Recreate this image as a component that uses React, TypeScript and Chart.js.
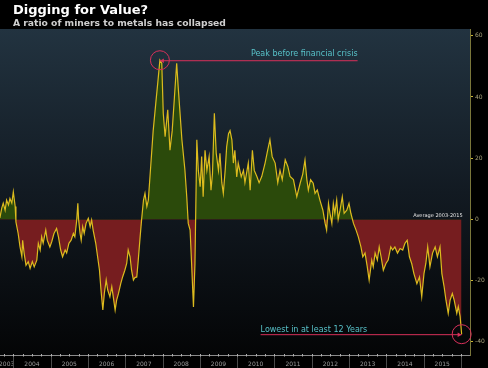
import React, { useEffect, useRef } from 'react';
import { Chart, registerables } from 'chart.js';

Chart.register(...registerables);

// Decimal-year dates of the readings
const dates: number[] = [
  2003.64, 2003.69, 2003.73, 2003.78, 2003.82, 2003.87, 2003.91, 2003.96, 2004.00, 2004.05,
  2004.07, 2004.13, 2004.18, 2004.23, 2004.25, 2004.29, 2004.34, 2004.40, 2004.45, 2004.51,
  2004.56, 2004.63, 2004.67, 2004.72, 2004.76, 2004.80, 2004.87, 2004.91, 2004.98, 2005.03,
  2005.09, 2005.16, 2005.21, 2005.27, 2005.32, 2005.39, 2005.43, 2005.49, 2005.55, 2005.61,
  2005.65, 2005.70, 2005.73, 2005.75, 2005.79, 2005.82, 2005.86, 2005.90, 2005.95, 2006.01,
  2006.06, 2006.10, 2006.14, 2006.21, 2006.26, 2006.31, 2006.35, 2006.40, 2006.44, 2006.49,
  2006.53, 2006.59, 2006.64, 2006.68, 2006.73, 2006.77, 2006.82, 2006.88, 2006.93, 2006.99,
  2007.04, 2007.08, 2007.13, 2007.17, 2007.22, 2007.26, 2007.31, 2007.35, 2007.40, 2007.44,
  2007.49, 2007.53, 2007.58, 2007.62, 2007.67,
  2007.75, 2007.82, 2007.88, 2007.93, 2007.98, 2008.02, 2008.07, 2008.14, 2008.20, 2008.26,
  2008.32, 2008.38, 2008.42, 2008.52, 2008.60, 2008.65, 2008.69, 2008.74, 2008.78, 2008.83,
  2008.87, 2008.92, 2008.96, 2009.01, 2009.05, 2009.09, 2009.14, 2009.19, 2009.25, 2009.30,
  2009.34, 2009.39, 2009.44, 2009.50, 2009.54, 2009.59, 2009.63, 2009.68, 2009.72, 2009.77,
  2009.81, 2009.86, 2009.90, 2009.94, 2009.99, 2010.03, 2010.11, 2010.17, 2010.21, 2010.30,
  2010.35, 2010.41, 2010.46, 2010.53, 2010.59, 2010.66, 2010.75, 2010.82, 2010.88, 2010.94,
  2011.02, 2011.09, 2011.15, 2011.21, 2011.29, 2011.36, 2011.42,
  2011.51, 2011.60, 2011.69, 2011.76, 2011.82, 2011.87, 2011.91, 2011.97, 2012.04, 2012.09,
  2012.15, 2012.22, 2012.30, 2012.36, 2012.40, 2012.45, 2012.49, 2012.54, 2012.58, 2012.62,
  2012.67, 2012.71, 2012.76, 2012.82, 2012.87, 2012.94, 2013.00, 2013.05, 2013.12, 2013.19,
  2013.25, 2013.32, 2013.37, 2013.43, 2013.49, 2013.54, 2013.61, 2013.65, 2013.70, 2013.76,
  2013.81, 2013.86, 2013.92, 2013.99, 2014.05, 2014.12, 2014.17, 2014.23, 2014.30, 2014.37,
  2014.44, 2014.50, 2014.56, 2014.62, 2014.68, 2014.74, 2014.82, 2014.89, 2014.95, 2015.01,
  2015.06, 2015.11, 2015.17, 2015.24, 2015.31, 2015.37, 2015.44, 2015.49, 2015.55, 2015.60,
  2015.66, 2015.71, 2015.77, 2015.82, 2015.89, 2015.93, 2015.98, 2016.02,
];

// Ratio of miners to metals, deviation from 2003-2015 average
const values: number[] = [
  0.5, 3.7, 5.3, 3, 6.3, 4.7, 6.8, 5.3, 9, 4.2,
  -0.8, -4.6, -9, -12.2, -6.8, -11, -15, -13.8, -16, -13.8,
  -15.5, -13.3, -7.8, -10, -5.7, -7.8, -3.5, -6.8, -9, -7.3,
  -4.6, -3, -5.7, -10, -12.2, -10, -11, -7.8, -6.8, -4.6,
  -5.7, -0.2, 5.3, 0, -4.6, -6.8, -2.4, -4.6, -1.3, 0.3,
  -2.4, -0.2, -3.5, -7.8, -12.2, -16.6, -23, -29.6, -24.2, -19.8,
  -23, -25.3, -22, -25.3, -29.6, -26.4, -24.2, -21, -18.8, -16.6,
  -14.4, -10, -12.2, -16.6, -19.8, -19, -18.8, -13.3, -5.7, 0,
  6.3, 8.5, 4.2, 6.3, 15,
  29, 38, 45.5, 52, 51, 34.7, 27, 35.8, 22.6, 29,
  40, 51, 43.3, 26, 16.2, 7.4, -1.3, -3.5, -14.4, -28.6,
  -14.4, 26, 16, 10.7, 20.5, 7.4, 22.6, 16, 20.5, 9.5,
  15, 34.7, 21.6, 16, 21.6, 12, 8.5, 16, 23.7, 28,
  29, 26, 18.4, 22.6, 13.9, 18.4, 13.9, 16, 12, 18.4,
  9.5, 22.6, 16, 14, 12, 14, 18.4, 22.6, 26, 20.5,
  18.4, 12, 16, 13, 19.5, 17.3, 14,
  13, 7.4, 11.8, 14.8, 19.4, 13, 9.6, 13, 11.8, 8.5,
  9.6, 6.3, 3, -1.3, -3.5, 5.2, 2, -1.3, 5.2, 2,
  6.3, 0, 3, 7.4, 2, 3, 5.2, 2, -1.3, -3.5,
  -5.7, -9, -12.2, -11, -15.5, -19.8, -13.3, -15.5, -11, -13.3,
  -9, -12.2, -16.6, -14.4, -13.3, -9, -10, -9, -11, -9.5,
  -10, -7.8, -6.8, -12.2, -14.4, -17.7, -21, -18.8, -25.3, -17.7,
  -14.4, -9, -15.5, -11, -9, -12.2, -9, -17.7, -22, -26.4,
  -30.7, -26.4, -24.2, -26.4, -30.7, -28.5, -31.8, -37.5,
];

const yearLabels: string[] = ['2003', '2004', '2005', '2006', '2007', '2008', '2009', '2010', '2011', '2012', '2013', '2014', '2015'];
const yTickValues: number[] = [-40, -20, 0, 20, 40, 60];

const X_MIN = 2003.643;
const X_MAX = 2016.244;
const Y_MIN = -44.3;
const Y_MAX = 62.2;

const titleText = 'Digging for Value?';
const subtitleText = 'A ratio of miners to metals has collapsed';
const peakLabel = 'Peak before financial crisis';
const lowLabel = 'Lowest in at least 12 Years';
const avgLabel = 'Average 2003-2015';
const peakLineEnd = 2013.23;
const lowLineStart = 2010.63;

const TEAL = '#58c2c9';
const PINK = '#d8305a';

function arrowHead(ctx: CanvasRenderingContext2D, x: number, y: number, dir: number) {
  ctx.beginPath();
  ctx.moveTo(x, y);
  ctx.lineTo(x - dir * 4, y - 2.2);
  ctx.lineTo(x - dir * 4, y + 2.2);
  ctx.closePath();
  ctx.fill();
}

const bgPlugin = {
  id: 'bgPlugin',
  beforeDraw(chart: any) {
    const { ctx, chartArea: a, width, height } = chart;
    ctx.save();
    ctx.fillStyle = '#000';
    ctx.fillRect(0, 0, width, height);
    const g = ctx.createLinearGradient(0, a.top, 0, a.bottom);
    g.addColorStop(0, '#223340');
    g.addColorStop(0.5, '#121a22');
    g.addColorStop(1, '#040506');
    ctx.fillStyle = g;
    ctx.fillRect(a.left, a.top, a.right - a.left, a.bottom - a.top);
    ctx.restore();
  },
};

const annotPlugin = {
  id: 'annotPlugin',
  afterDatasetsDraw(chart: any) {
    const { ctx, scales } = chart;
    const xs = scales.x;
    const ys = scales.y;
    ctx.save();

    // average label
    const lastI = values.length - 1;
    const ex = xs.getPixelForValue(dates[lastI]);
    const zy = ys.getPixelForValue(0);
    ctx.font = '5px "DejaVu Sans"';
    ctx.fillStyle = '#e6e6e6';
    ctx.textAlign = 'right';
    ctx.textBaseline = 'alphabetic';
    ctx.fillText(avgLabel, ex + 1, zy - 2);

    // peak annotation
    let pi = 0;
    values.forEach((v, i) => { if (v > values[pi]) pi = i; });
    const px = xs.getPixelForValue(dates[pi]);
    const py = ys.getPixelForValue(values[pi]);
    const pe = xs.getPixelForValue(peakLineEnd);
    ctx.strokeStyle = PINK;
    ctx.fillStyle = PINK;
    ctx.lineWidth = 1;
    ctx.beginPath();
    ctx.moveTo(px, py + 0.5);
    ctx.lineTo(pe, py + 0.5);
    ctx.stroke();
    ctx.beginPath();
    ctx.arc(px, py, 9.5, 0, Math.PI * 2);
    ctx.stroke();
    arrowHead(ctx, px, py + 0.5, -1);
    ctx.font = '8px "DejaVu Sans"';
    ctx.fillStyle = TEAL;
    ctx.textAlign = 'right';
    ctx.textBaseline = 'middle';
    ctx.fillText(peakLabel, pe, py - 6.5);

    // lowest annotation
    const lx = xs.getPixelForValue(dates[lastI]);
    const ly = ys.getPixelForValue(values[lastI]);
    const ls = xs.getPixelForValue(lowLineStart);
    ctx.strokeStyle = PINK;
    ctx.fillStyle = PINK;
    ctx.beginPath();
    ctx.moveTo(ls, ly + 0.5);
    ctx.lineTo(lx, ly + 0.5);
    ctx.stroke();
    ctx.beginPath();
    ctx.arc(lx, ly, 9.5, 0, Math.PI * 2);
    ctx.stroke();
    arrowHead(ctx, lx, ly + 0.5, 1);
    ctx.font = '8px "DejaVu Sans"';
    ctx.fillStyle = TEAL;
    ctx.textAlign = 'left';
    ctx.textBaseline = 'middle';
    ctx.fillText(lowLabel, ls, ly - 4.7);

    ctx.restore();
  },
  afterDraw(chart: any) {
    const { ctx, chartArea: a, scales, height } = chart;
    const xs = scales.x;
    ctx.save();
    // year separators
    ctx.strokeStyle = '#4a4a4a';
    ctx.lineWidth = 1;
    for (let yr = 2004; yr <= 2016; yr++) {
      const x = Math.round(xs.getPixelForValue(yr)) + 0.5;
      if (x > a.right) continue;
      ctx.beginPath();
      ctx.moveTo(x, a.bottom);
      ctx.lineTo(x, height);
      ctx.stroke();
    }
    // minor quarterly ticks
    ctx.strokeStyle = '#b0b0b0';
    for (let q = 2003.75; q < X_MAX; q += 0.25) {
      const x = Math.round(xs.getPixelForValue(q)) + 0.5;
      ctx.beginPath();
      ctx.moveTo(x, a.bottom - 1);
      ctx.lineTo(x, a.bottom + 1.5);
      ctx.stroke();
    }
    // titles
    ctx.textAlign = 'left';
    ctx.textBaseline = 'alphabetic';
    ctx.fillStyle = '#ffffff';
    ctx.font = 'bold 13px "DejaVu Sans"';
    ctx.fillText(titleText, 13, 13.5);
    ctx.fillStyle = '#cfcfcf';
    ctx.font = 'bold 9.2px "DejaVu Sans"';
    ctx.fillText(subtitleText, 13, 25.5);
    ctx.restore();
  },
};

export default function App() {
  const ref = useRef<HTMLCanvasElement>(null);
  useEffect(() => {
    const canvas = ref.current;
    if (!canvas) return;
    const points = dates.map((d, i) => ({ x: d, y: values[i] }));
    const chart = new Chart(canvas, {
      type: 'line',
      data: {
        datasets: [
          {
            data: points,
            borderColor: '#dcbb1e',
            borderWidth: 1.2,
            pointRadius: 0,
            tension: 0,
            fill: { target: 'origin', above: '#2b4a0b', below: '#761d1f' },
          } as any,
        ],
      },
      options: {
        responsive: false,
        animation: false,
        devicePixelRatio: 1,
        layout: { padding: { top: 29, left: 0, right: 0, bottom: 0 } },
        plugins: { legend: { display: false }, tooltip: { enabled: false }, title: { display: false } },
        scales: {
          x: {
            type: 'linear',
            min: X_MIN,
            max: X_MAX,
            grid: { display: false, drawTicks: false },
            border: { display: true, color: '#8a8a8a', width: 1 },
            afterBuildTicks: (s: any) => {
              s.ticks = yearLabels.map((l) => {
                const y0 = Math.max(Number(l), X_MIN);
                const y1 = Math.min(Number(l) + 1, X_MAX);
                return { value: (y0 + y1) / 2 };
              });
            },
            ticks: {
              autoSkip: false,
              maxRotation: 0,
              padding: 6,
              color: '#9c9c9c',
              font: { family: 'DejaVu Sans', size: 6 },
              callback: (v: any) => String(Math.floor(Number(v))),
            },
            afterFit: (s: any) => {
              s.height = 13;
              s.paddingLeft = 0;
              s.paddingRight = 0;
            },
          },
          y: {
            position: 'right',
            min: Y_MIN,
            max: Y_MAX,
            afterBuildTicks: (s: any) => { s.ticks = yTickValues.map((v) => ({ value: v })); },
            grid: { drawOnChartArea: false, drawTicks: true, tickLength: 3, color: '#c8b430' },
            border: { display: true, color: '#7a763a', width: 1 },
            ticks: {
              padding: 2,
              color: '#a8a27a',
              font: { family: 'DejaVu Sans', size: 6 },
              callback: (v: any) => String(v),
            },
            afterFit: (s: any) => {
              s.width = 18;
              s.paddingTop = 0;
              s.paddingBottom = 0;
            },
          },
        },
      } as any,
      plugins: [bgPlugin, annotPlugin],
    });
    return () => chart.destroy();
  }, []);
  return (
    <div style={{ position: 'absolute', left: 0, top: 0, width: 488, height: 368, background: '#000' }}>
      <canvas ref={ref} width={488} height={368} style={{ display: 'block', width: 488, height: 368 }} />
    </div>
  );
}
